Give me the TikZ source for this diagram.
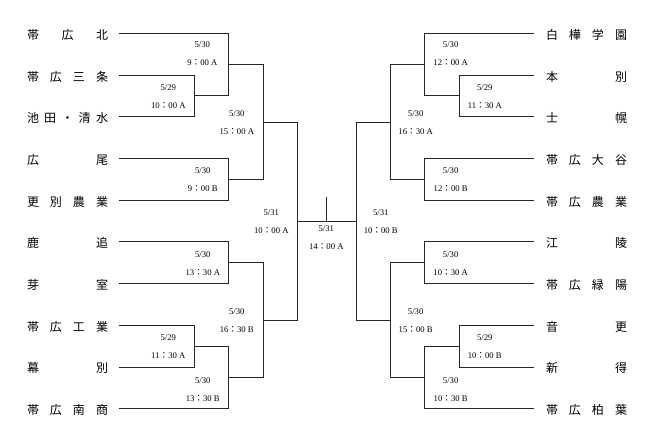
\documentclass[tikz,border=0pt]{standalone}
\usepackage{fontspec}
\setmainfont{Liberation Serif}
\newfontfamily\cjk{Noto Sans CJK JP}
\usetikzlibrary{calc}
\newcommand{\tm}[2]{#1{\cjk ：}#2}
\newcommand{\spread}[1]{\makebox[60.75pt]{#1}}
\begin{document}
\begin{tikzpicture}[x=0.75pt,y=-0.75pt,
    line/.style={draw=black!85,line width=0.6pt},
    team/.style={inner sep=0pt,font=\cjk\fontsize{9}{9}\selectfont},
    lbl/.style={inner sep=0pt,align=center,font=\fontsize{6.5}{13.5}\selectfont}]
    \useasboundingbox (0,0) rectangle (654,443);

    % line ends of the teams
    \foreach \i in {1,...,10}{
        \coordinate (s\i) at (119,{33.3+41.7*(\i-1)});
        \coordinate (t\i) at (534,{33.3+41.7*(\i-1)});
    }

    \foreach \n/\i in {帯\hfill 広\hfill 北/1,帯\hfill 広\hfill 三\hfill 条/2,池\hfill 田\hfill ・\hfill 清\hfill 水/3,
        広\hfill 尾/4,更\hfill 別\hfill 農\hfill 業/5,鹿\hfill 追/6,芽\hfill 室/7,
        帯\hfill 広\hfill 工\hfill 業/8,幕\hfill 別/9,帯\hfill 広\hfill 南\hfill 商/10}
        \node[team] (L\i) at (67.5,{34.8+41.7*(\i-1)}) {\spread{\n}};
    \foreach \n/\i in {白\hfill 樺\hfill 学\hfill 園/1,本\hfill 別/2,士\hfill 幌/3,
        帯\hfill 広\hfill 大\hfill 谷/4,帯\hfill 広\hfill 農\hfill 業/5,江\hfill 陵/6,帯\hfill 広\hfill 緑\hfill 陽/7,
        音\hfill 更/8,新\hfill 得/9,帯\hfill 広\hfill 柏\hfill 葉/10}
        \node[team] (R\i) at (586.5,{34.8+41.7*(\i-1)}) {\spread{\n}};

    % left half
    \coordinate (la) at (194.3,95.85);
    \coordinate (lb) at (228.3,64.6);
    \coordinate (ld) at (228.3,179.25);
    \coordinate (lc) at (263.3,121.9);
    \coordinate (lf) at (228.3,262.65);
    \coordinate (lh) at (194.3,346.05);
    \coordinate (li) at (228.3,377.3);
    \coordinate (lg) at (263.3,320);
    \coordinate (le) at (297.3,220.95);

    % right half
    \coordinate (rb) at (459.3,95.85);
    \coordinate (ra) at (424.7,64.6);
    \coordinate (rd) at (424.7,179.25);
    \coordinate (rc) at (390.7,121.9);
    \coordinate (rf) at (424.7,262.65);
    \coordinate (rh) at (459.3,346.05);
    \coordinate (ri) at (424.7,377.3);
    \coordinate (rg) at (390.7,320);
    \coordinate (re) at (356.3,220.95);

    \coordinate (fin) at (326.8,220.95);
    \coordinate (top) at (326.8,196.7);

    \draw[line] (s2) -| (la) |- (s3);
    \draw[line] (s1) -| (lb) |- (la);
    \draw[line] (s4) -| (ld) |- (s5);
    \draw[line] (lb) -| (lc) |- (ld);
    \draw[line] (s6) -| (lf) |- (s7);
    \draw[line] (s8) -| (lh) |- (s9);
    \draw[line] (lh) -| (li) |- (s10);
    \draw[line] (lf) -| (lg) |- (li);
    \draw[line] (lc) -| (le) |- (lg);

    \draw[line] (t2) -| (rb) |- (t3);
    \draw[line] (t1) -| (ra) |- (rb);
    \draw[line] (t4) -| (rd) |- (t5);
    \draw[line] (ra) -| (rc) |- (rd);
    \draw[line] (t6) -| (rf) |- (t7);
    \draw[line] (t8) -| (rh) |- (t9);
    \draw[line] (rh) -| (ri) |- (t10);
    \draw[line] (rf) -| (rg) |- (ri);
    \draw[line] (rc) -| (re) |- (rg);

    \draw[line] (le) -- (re);
    \draw[line] (fin) -- (top);

    % dates and times
    \node[lbl] (la-t) at ($(la)+(-26,0.5)$) {5/29\\\tm{10}{00 A}};
    \node[lbl] (lb-t) at ($(lb)+(-26,-11.2)$) {5/30\\\tm{9}{00 A}};
    \node[lbl] (lc-t) at ($(lc)+(-26.5,0.5)$) {5/30\\\tm{15}{00 A}};
    \node[lbl] (ld-t) at ($(ld)+(-25.5,0.5)$) {5/30\\\tm{9}{00 B}};
    \node[lbl] (le-t) at ($(le)+(-26,0.5)$) {5/31\\\tm{10}{00 A}};
    \node[lbl] (lf-t) at ($(lf)+(-25.5,0.8)$) {5/30\\\tm{13}{30 A}};
    \node[lbl] (lg-t) at ($(lg)+(-26.5,0.5)$) {5/30\\\tm{16}{30 B}};
    \node[lbl] (lh-t) at ($(lh)+(-26,0.5)$) {5/29\\\tm{11}{30 A}};
    \node[lbl] (li-t) at ($(li)+(-25.5,11.9)$) {5/30\\\tm{13}{30 B}};

    \node[lbl] (ra-t) at ($(ra)+(26,-11.2)$) {5/30\\\tm{12}{00 A}};
    \node[lbl] (rb-t) at ($(rb)+(25.5,0.5)$) {5/29\\\tm{11}{30 A}};
    \node[lbl] (rc-t) at ($(rc)+(25,0.5)$) {5/30\\\tm{16}{30 A}};
    \node[lbl] (rd-t) at ($(rd)+(26,0.5)$) {5/30\\\tm{12}{00 B}};
    \node[lbl] (re-t) at ($(re)+(24.5,0.5)$) {5/31\\\tm{10}{00 B}};
    \node[lbl] (rf-t) at ($(rf)+(26,0.8)$) {5/30\\\tm{10}{30 A}};
    \node[lbl] (rg-t) at ($(rg)+(25,0.5)$) {5/30\\\tm{15}{00 B}};
    \node[lbl] (rh-t) at ($(rh)+(25.5,0.5)$) {5/29\\\tm{10}{00 B}};
    \node[lbl] (ri-t) at ($(ri)+(26,11.9)$) {5/30\\\tm{10}{30 B}};

    \node[lbl] (fin-t) at ($(fin)+(-0.5,16.3)$) {5/31\\\tm{14}{00 A}};

\end{tikzpicture}
\end{document}
